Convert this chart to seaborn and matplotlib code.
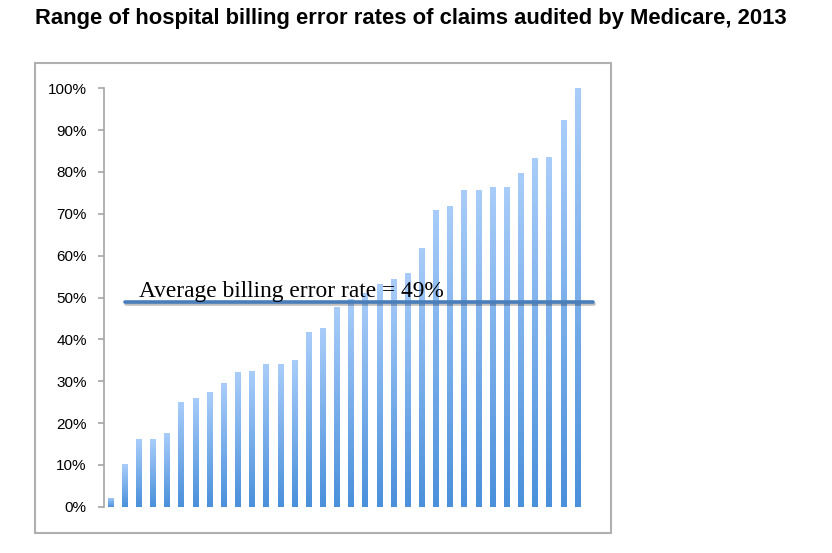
import matplotlib
matplotlib.use('Agg')
import matplotlib.pyplot as plt
import matplotlib.patheffects as pe
from matplotlib.patches import Rectangle
from matplotlib.ticker import PercentFormatter
import numpy as np
import pandas as pd
import seaborn as sns

# Billing error rate per audited hospital, sorted low to high
hospitals = [f"H{i}" for i in range(1, 35)]
error_rates = [2.2, 10.2, 16.2, 16.2, 17.5, 25.1, 26.1, 27.3, 29.6, 32.1,
               32.4, 34.0, 34.0, 35.1, 41.8, 42.6, 47.8, 49.6, 51.0, 53.2,
               54.5, 55.9, 61.9, 71.0, 71.9, 75.7, 75.7, 76.4, 76.4, 79.8,
               83.3, 83.6, 92.4, 100.0]
average_rate = 49

df = pd.DataFrame({"Hospital": hospitals, "Rate": np.array(error_rates) / 100})

sns.set_style("white")
plt.rcParams['font.family'] = ['Liberation Sans', 'DejaVu Sans']
plt.rcParams['text.color'] = 'black'
plt.rcParams['ytick.labelcolor'] = 'black'

fig = plt.figure(figsize=(8.32, 5.53), dpi=100)
ax = fig.add_axes([0.1244, 0.0837, 0.5782, 0.7566])

sns.barplot(data=df, x="Hospital", y="Rate", color="#5b9be0", width=0.4,
            linewidth=0, ax=ax)

# per-bar vertical gradient (light top, darker bottom), like the Excel fill
grad = np.linspace(0, 1, 256).reshape(-1, 1)
cmap = matplotlib.colors.LinearSegmentedColormap.from_list("bar", ["#4a90db", "#a9cdfa"])
for patch in ax.patches:
    x0, y0 = patch.get_x(), patch.get_y()
    w, h = patch.get_width(), patch.get_height()
    img = ax.imshow(grad, extent=[x0, x0 + w, y0, y0 + h], origin="lower",
                    cmap=cmap, aspect="auto", zorder=2)
    img.set_clip_path(patch)

ax.set_xlim(-0.5, len(hospitals) - 0.5)
ax.set_ylim(0, 1)
ax.set_yticks(np.arange(0, 1.01, 0.1))
ax.yaxis.set_major_formatter(PercentFormatter(1.0, decimals=0))
ax.set_xticks([])
ax.set_xlabel("")
ax.set_ylabel("")
for side in ["top", "right", "bottom"]:
    ax.spines[side].set_visible(False)
ax.spines["left"].set_color("#a6a6a6")
ax.spines["left"].set_linewidth(1.2)
ax.tick_params(axis="y", which="major", left=True, length=4, width=1.2,
               color="#a6a6a6", labelsize=11, labelcolor="black", pad=8)

# average line drawn across the bars
ax.axhline(average_rate / 100, xmin=0.045, xmax=1.018, color="#4a7ebb", lw=2.6,
           clip_on=False, zorder=5,
           path_effects=[pe.SimpleLineShadow(offset=(0.5, -1.5), alpha=0.25), pe.Normal()])
ax.text(0.0738, 0.502, f"Average billing error rate = {average_rate}%",
        transform=ax.transAxes, family=['Liberation Serif', 'DejaVu Serif'],
        fontsize=16.8, va="baseline", ha="left", color="black", zorder=6)

fig.text(0.494, 0.9566, "Range of hospital billing error rates of claims audited by Medicare, 2013",
         ha="center", va="baseline", fontsize=15.8, fontweight="bold", color="black")

fig.patches.append(Rectangle((0.0417, 0.0367), 0.6927, 0.8499, transform=fig.transFigure,
                             fill=False, edgecolor="#b0b0b0", lw=1.5))

fig.savefig("out.png", dpi=100)
plt.close(fig)
